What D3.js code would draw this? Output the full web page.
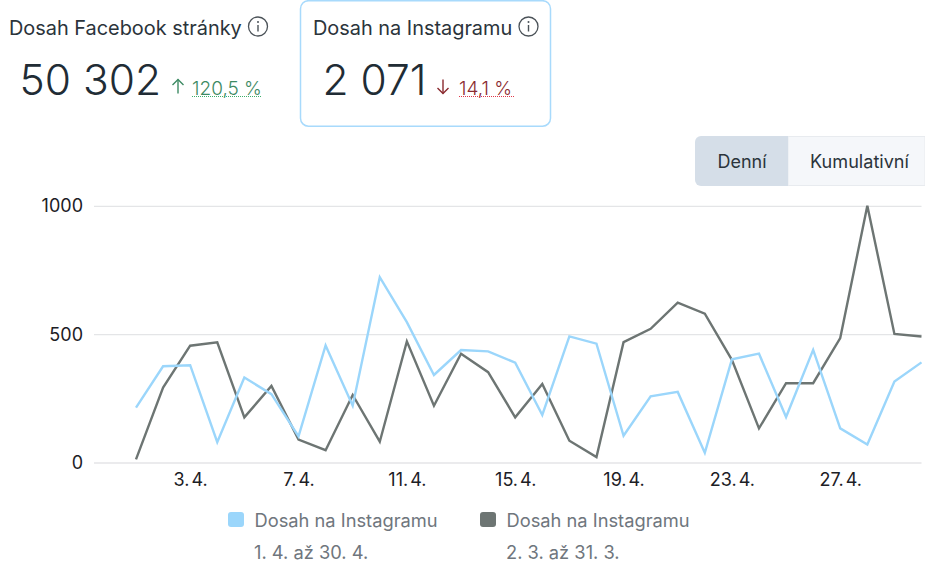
<!DOCTYPE html>
<html>
<head>
<meta charset="utf-8">
<script src="https://cdn.jsdelivr.net/npm/d3@7"></script>
<style>
    html, body { margin: 0; padding: 0; background: #fff; }
    svg { display: block; font-family: Inter, "Noto Sans", sans-serif; }
    .grid line { stroke: #e4e5e7; stroke-width: 1.3; }
    .grid .domain, .days .domain, .days line { display: none; }
    .grid text, .days text { fill: #1c2025; font-size: 18px; font-family: Inter, "Noto Sans", sans-serif; }
    .days text { word-spacing: -3px; }
    .series { fill: none; stroke-width: 2.4; stroke-linejoin: miter; }
</style>
</head>
<body>
<svg id="chart" width="925" height="562"></svg>
<script>
const days = d3.range(1, 31);
const dayTicks = [3, 7, 11, 15, 19, 23, 27];
const valueTicks = [0, 500, 1000];

const currentReach = [214, 375, 379, 79, 331, 266, 102, 456, 221, 722, 547, 341, 438, 433, 389,
    185, 491, 463, 104, 258, 275, 38, 402, 424, 177, 439, 133, 70, 315, 390];
const previousReach = [12, 292, 455, 468, 176, 298, 89, 48, 263, 81, 472, 221, 424, 352, 176,
    306, 85, 21, 469, 521, 623, 580, 400, 133, 309, 309, 485, 1000, 501, 491];

const seriesNames = ['Dosah na Instagramu', 'Dosah na Instagramu'];
const seriesRanges = ['1. 4. až 30. 4.', '2. 3. až 31. 3.'];
const seriesColors = ['#9bd6fb', '#6d7573'];
const toggleLabels = ['Denní', 'Kumulativní'];

const svg = d3.select('#chart');

const scale_x = d3.scalePoint().domain(days).range([136, 921.5]);
const scale_y = d3.scaleLinear().domain([0, 1000]).range([462.5, 205.8]);

// gridlines and y labels
svg.append('g')
    .attr('class', 'grid')
    .attr('transform', 'translate(94,0)')
    .call(d3.axisLeft(scale_y).tickValues(valueTicks).tickFormat(d => d).tickSize(-827.5).tickPadding(11))
    .selectAll('text')
    .attr('dy', '0.34em');

// x labels
svg.append('g')
    .attr('class', 'days')
    .attr('transform', 'translate(0,462.5)')
    .call(d3.axisBottom(scale_x).tickValues(dayTicks).tickFormat(d => `${d}. 4.`).tickSize(0).tickPadding(11));

const line = d3.line()
    .x((d, i) => scale_x(days[i]))
    .y(d => scale_y(d));

// blue goes on top, as in the original
svg.append('path').datum(previousReach).attr('class', 'series').attr('stroke', seriesColors[1]).attr('d', line);
svg.append('path').datum(currentReach).attr('class', 'series').attr('stroke', seriesColors[0]).attr('d', line);

function infoIcon(x, y) {
    const g = svg.append('g').attr('transform', `translate(${x},${y})`);
    g.append('circle').attr('r', 9.5).attr('fill', 'none').attr('stroke', '#4b5258').attr('stroke-width', 1.3);
    g.append('line').attr('x1', 0).attr('x2', 0).attr('y1', -1.5).attr('y2', 5).attr('stroke', '#4b5258').attr('stroke-width', 1.4);
    g.append('circle').attr('cy', -4.5).attr('r', 1).attr('fill', '#4b5258');
}

function arrow(x, y, up, color) {
    const dir = up ? -1 : 1;
    const g = svg.append('g').attr('fill', 'none').attr('stroke', color).attr('stroke-width', 1.4);
    g.append('line').attr('x1', x).attr('x2', x).attr('y1', y - dir * 7).attr('y2', y + dir * 7);
    g.append('path').attr('d', `M${x - 5.5},${y + dir * 1.5}L${x},${y + dir * 7}L${x + 5.5},${y + dir * 1.5}`);
}

function metric(title, titleX, iconX, value, valueX, arrowX, up, pct, pctX, pctEnd, color, dotColor) {
    svg.append('text').attr('x', titleX).attr('y', 34.5).attr('font-size', 19.9).attr('fill', '#2b343b').text(title);
    infoIcon(iconX, 26.5);
    svg.append('text').attr('x', valueX).attr('y', 95).attr('font-size', 42.5).attr('font-weight', 350).attr('fill', '#212c35').text(value);
    arrow(arrowX, 86.5, up, color);
    svg.append('text').attr('x', pctX).attr('y', 95).attr('font-size', 19).attr('font-weight', 300).attr('fill', color).text(pct);
    svg.append('line').attr('x1', pctX).attr('x2', pctEnd).attr('y1', 96.5).attr('y2', 96.5)
        .attr('stroke', dotColor).attr('stroke-width', 1).attr('stroke-dasharray', '1 1');
}

// selected card
svg.append('rect').attr('x', 300.5).attr('y', 0.7).attr('width', 250).attr('height', 125.5).attr('rx', 8)
    .attr('fill', '#fff').attr('stroke', '#a8dafc').attr('stroke-width', 1.5);

metric('Dosah Facebook stránky', 9, 258, '50 302', 19.5, 178, true, '120,5 %', 192, 262, '#3d8a63', '#3fae6a');
metric('Dosah na Instagramu', 313, 528.5, '2 071', 322.5, 443, false, '14,1 %', 459, 514, '#8a2a2f', '#e0384a');

// toggle
const toggle = svg.append('g');
toggle.append('path').attr('d', 'M925,136.5H788V185.5H925Z').attr('fill', '#f5f7fa').attr('stroke', '#e8ebef');
toggle.append('path').attr('d', 'M788,136H701a6,6 0 0 0 -6,6V180a6,6 0 0 0 6,6H788Z').attr('fill', '#d5dee8');
toggle.append('text').attr('x', 742).attr('y', 168).attr('text-anchor', 'middle').attr('font-size', 18).attr('fill', '#2b343b').text(toggleLabels[0]);
toggle.append('text').attr('x', 859.5).attr('y', 168).attr('text-anchor', 'middle').attr('font-size', 18.1).attr('fill', '#2b343b').text(toggleLabels[1]);

// legend
const legendX = [228, 480];
seriesNames.forEach((name, i) => {
    svg.append('rect').attr('x', legendX[i]).attr('y', 512).attr('width', 16).attr('height', 15).attr('rx', 3).attr('fill', seriesColors[i]);
    svg.append('text').attr('x', legendX[i] + 26.5).attr('y', 527).attr('font-size', 18.3).attr('fill', '#6f767d').text(name);
    svg.append('text').attr('x', legendX[i] + 26).attr('y', 559).attr('font-size', 18.3).attr('fill', '#6f767d').text(seriesRanges[i]);
});
</script>
</body>
</html>
